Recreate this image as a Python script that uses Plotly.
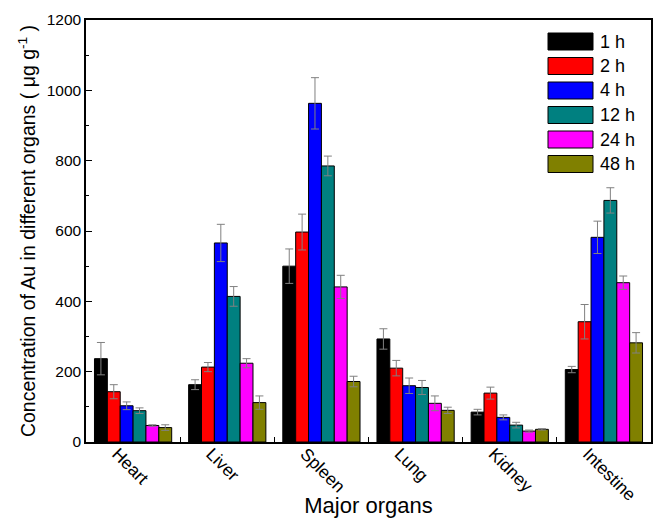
import plotly.graph_objects as go

organs = ["Heart", "Liver", "Spleen", "Lung", "Kidney", "Intestine"]
series_names = ["1 h", "2 h", "4 h", "12 h", "24 h", "48 h"]
colors = ["#000000", "#FF0000", "#0000FF", "#008080", "#FF00FF", "#808000"]

v_1h = [237, 163, 500, 293, 85, 206]
e_1h = [46, 14, 49, 29, 8, 9]
v_2h = [143, 213, 597, 210, 139, 342]
e_2h = [20, 13, 51, 22, 17, 49]
v_4h = [103, 566, 963, 160, 70, 582]
e_4h = [11, 53, 73, 22, 7, 46]
v_12h = [89, 414, 785, 155, 48, 687]
e_12h = [8, 28, 28, 20, 8, 36]
v_24h = [47, 224, 441, 110, 31, 453]
e_24h = [2, 13, 33, 21, 3, 19]
v_48h = [41, 112, 172, 90, 36, 282]
e_48h = [8, 19, 15, 9, 2, 29]

values = [v_1h, v_2h, v_4h, v_12h, v_24h, v_48h]
errors = [e_1h, e_2h, e_4h, e_12h, e_24h, e_48h]

y_ticks = [0, 200, 400, 600, 800, 1000, 1200]

W, H = 654, 518
ML, MR, MT, MB = 86, 3, 20, 76
PW, PH = W - ML - MR, H - MT - MB

fig = go.Figure()
for name, col, v, e in zip(series_names, colors, values, errors):
    fig.add_trace(go.Bar(
        x=organs, y=v, name=name,
        marker=dict(color=col, line=dict(color="#000000", width=1)),
        error_y=dict(type="data", array=e, visible=True, color="#808080",
                     thickness=1, width=4),
    ))

# custom legend with wide swatches (paper coordinates)
def px_x(p):
    return (p - ML) / PW

def px_y(p):
    return (H - MB - p) / PH

shapes = []
annotations = []
for i, (name, col) in enumerate(zip(series_names, colors)):
    top = 33 + i * 24.5
    shapes.append(dict(type="rect", xref="paper", yref="paper",
                       x0=px_x(548), x1=px_x(593), y0=px_y(top + 17), y1=px_y(top),
                       fillcolor=col, line=dict(color="#000000", width=1)))
    annotations.append(dict(xref="paper", yref="paper", x=px_x(598), y=px_y(top + 8.5),
                            text=name, showarrow=False, xanchor="left", yanchor="middle",
                            font=dict(size=18)))

font_family = "Liberation Sans, Arial, sans-serif"
fig.update_layout(
    width=W, height=H,
    margin=dict(l=ML, r=MR, t=MT, b=MB),
    paper_bgcolor="white", plot_bgcolor="white",
    barmode="group", bargap=0.18, bargroupgap=0,
    font=dict(family=font_family, color="#000000", size=15),
    showlegend=False,
    shapes=shapes, annotations=annotations,
    xaxis=dict(
        range=[-0.5, 5.5], tickangle=45, tickson="boundaries",
        ticks="inside", ticklen=5, tickcolor="#000000",
        ticklabelshift=-16, ticklabelstandoff=-7, automargin=False,
        showline=True, linecolor="#000000", linewidth=1.5, mirror=True,
        showgrid=False, tickfont=dict(size=17.5),
        title=dict(text="Major organs", font=dict(size=22), standoff=2),
    ),
    yaxis=dict(
        range=[0, 1200], tickvals=y_ticks, ticks="inside", ticklen=6,
        tickcolor="#000000", automargin=False,
        minor=dict(dtick=100, ticks="inside", ticklen=3, tickcolor="#000000"),
        showline=True, linecolor="#000000", linewidth=1.5, mirror=True,
        showgrid=False, zeroline=False, tickfont=dict(size=15.5),
        title=dict(text="Concentration of Au in different organs ( \u03bcg g<sup>-1</sup> )",
                   font=dict(size=19.5), standoff=6),
    ),
)

fig.write_html("out.html", config={"displayModeBar": False},
               post_script="document.body.style.margin='0';")
